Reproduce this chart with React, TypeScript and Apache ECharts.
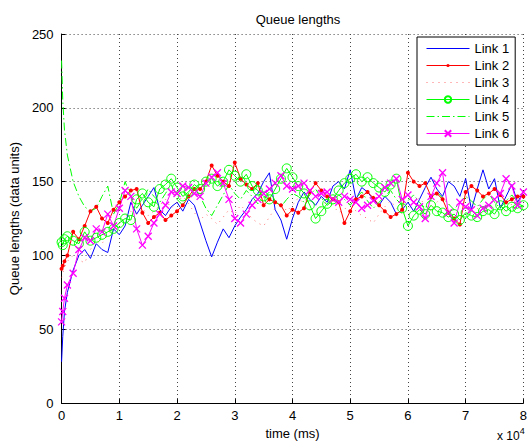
import React, { useEffect, useRef } from "react";
import * as echarts from "echarts";

// time grid in ms (x axis shown in units of 10^4 ms)
const TIME_MS: number[] = [0, 200, 500, ...Array.from({ length: 80 }, (_, i) => (i + 1) * 1000)];

const LINK1 = [
  28, 45, 62,
  75, 90, 100, 104, 98, 108, 104, 102, 118, 114,
  120, 136, 128, 134, 140, 146, 131, 127, 133, 136,
  130, 138, 134, 122, 110, 99, 109, 118, 112, 120,
  126, 131, 138, 142, 150, 156, 131, 124, 111, 125,
  136, 143, 138, 134, 140, 136, 147, 150, 145, 158,
  138, 146, 143, 138, 134, 140, 136, 128, 131, 136,
  130, 138, 146, 153, 145, 140, 150, 147, 140, 152,
  131, 145, 158, 145, 152, 132, 140, 148, 136, 143,
];
const LINK2 = [
  91, 93, 96,
  100, 116, 111, 120, 130, 133, 125, 122, 131, 136,
  140, 144, 145, 129, 122, 126, 129, 124, 127, 130,
  134, 140, 145, 145, 150, 161, 154, 150, 147, 163,
  152, 148, 145, 149, 134, 138, 136, 134, 127, 131,
  129, 132, 143, 149, 144, 140, 138, 136, 122, 130,
  138, 140, 143, 139, 134, 130, 126, 128, 131, 156,
  150, 147, 149, 140, 142, 138, 129, 125, 121, 143,
  147, 144, 140, 142, 145, 141, 136, 138, 140, 140,
];
const LINK3 = [
  85, 88, 92,
  96, 100, 97, 95, 104, 110, 108, 114, 118, 122,
  126, 130, 128, 132, 127, 130, 134, 138, 132, 136,
  140, 135, 129, 124, 128, 125, 121, 126, 131, 128,
  134, 130, 125, 122, 120, 126, 132, 136, 130, 134,
  139, 135, 130, 127, 133, 138, 134, 129, 131, 136,
  130, 127, 125, 122, 128, 133, 137, 132, 128, 131,
  135, 139, 134, 130, 136, 140, 135, 131, 128, 133,
  137, 132, 128, 134, 138, 133, 129, 135, 139, 136,
];
const LINK4 = [
  109, 107, 111,
  113, 110, 108, 116, 110, 112, 114, 116, 118, 122,
  125, 124, 138, 142, 136, 133, 145, 148, 152, 146,
  140, 143, 148, 145, 150, 152, 147, 150, 158, 154,
  150, 155, 147, 144, 140, 138, 145, 152, 159, 153,
  147, 142, 134, 125, 130, 135, 138, 144, 149, 152,
  155, 150, 153, 149, 146, 143, 148, 152, 132, 120,
  127, 131, 128, 134, 130, 129, 126, 128, 124, 129,
  127, 126, 130, 131, 128, 134, 130, 133, 132, 134,
];
const LINK5 = [
  232, 205, 185,
  168, 150, 140, 133, 130, 132, 140, 147, 128, 135,
  150, 140, 132, 138, 145, 140, 136, 142, 148, 138,
  134, 142, 146, 140, 132, 127, 134, 141, 148, 142,
  138, 144, 140, 135, 139, 143, 137, 133, 138, 142,
  140, 136, 141, 145, 139, 134, 137, 141, 138, 134,
  139, 143, 137, 132, 136, 140, 144, 138, 134, 137,
  141, 136, 132, 138, 143, 139, 135, 131, 136, 140,
  137, 133, 138, 142, 136, 132, 137, 141, 136, 133,
];
const LINK6 = [
  55, 62, 71,
  80, 88, 104, 112, 110, 118, 116, 128, 120, 132,
  144, 140, 118, 107, 113, 122, 128, 134, 143, 142,
  147, 146, 142, 140, 149, 153, 156, 149, 138, 125,
  122, 128, 134, 138, 142, 145, 149, 154, 147, 145,
  147, 149, 144, 140, 142, 143, 138, 136, 140, 138,
  136, 132, 134, 137, 140, 146, 149, 152, 138, 141,
  136, 133, 125, 140, 149, 156, 129, 122, 136, 133,
  131, 127, 132, 134, 138, 142, 152, 147, 134, 143,
];

const SERIES_NAMES = ["Link 1", "Link 2", "Link 3", "Link 4", "Link 5", "Link 6"];
const X_TICKS = [0, 1, 2, 3, 4, 5, 6, 7, 8];
const Y_TICKS = [0, 50, 100, 150, 200, 250];

const FONT = "'Liberation Sans', Arial, Helvetica, sans-serif";

export default function App() {
  const ref = useRef<HTMLDivElement>(null);

  useEffect(() => {
    document.body.style.margin = "0";
    if (!ref.current) return;
    const chart = echarts.init(ref.current, undefined, { renderer: "svg" });
    const pairs = (arr: number[]) => TIME_MS.map((t, i) => [t, arr[i]]);

    const hideSym = { itemStyle: { opacity: 0 }, lineStyle: { width: 1 } };

    const option: any = {
      animation: false,
      backgroundColor: "#ffffff",
      textStyle: { fontFamily: FONT },
      title: {
        text: "Queue lengths",
        left: 293,
        top: 8,
        textAlign: "center",
        textStyle: { fontSize: 13, fontWeight: "normal", color: "#000", fontFamily: FONT },
      },
      grid: { left: 58, right: 2, top: 34, bottom: 40, containLabel: false },
      legend: {
        orient: "vertical",
        left: 417,
        top: 37,
        padding: [4, 6, 4, 9],
        itemWidth: 43,
        itemHeight: 8,
        itemGap: 2,
        backgroundColor: "#fff",
        borderColor: "#000",
        borderWidth: 1,
        borderRadius: 0,
        align: "left",
        textStyle: { fontSize: 13, color: "#000", fontFamily: FONT, lineHeight: 15 },
        data: [
          { name: SERIES_NAMES[0], ...hideSym },
          {
            name: SERIES_NAMES[1],
            icon: "path://M0,4.6H43V5.4H0Z M19.9,5A1.6,1.6 0 1 1 23.1,5A1.6,1.6 0 1 1 19.9,5Z",
          },
          { name: SERIES_NAMES[2], ...hideSym },
          { name: SERIES_NAMES[3], lineStyle: { width: 1 } },
          { name: SERIES_NAMES[4], ...hideSym },
          { name: SERIES_NAMES[5], lineStyle: { width: 1 } },
        ],
      },
      xAxis: {
        type: "value",
        min: 0,
        max: 80000,
        interval: 10000,
        name: "time (ms)",
        nameLocation: "middle",
        nameGap: 21,
        nameTextStyle: { fontSize: 13, color: "#000", fontFamily: FONT },
        axisLine: { show: true, lineStyle: { color: "#000", width: 1 } },
        axisTick: { show: true, inside: true, length: 4, lineStyle: { color: "#000" } },
        axisLabel: {
          color: "#000",
          fontSize: 13,
          margin: 6,
          fontFamily: FONT,
          formatter: (v: number) => {
            const k = Math.round(v / 10000);
            return X_TICKS.includes(k) ? String(k) : "";
          },
        },
        splitLine: { show: true, lineStyle: { color: "#444", type: [1, 3], width: 1 } },
      },
      yAxis: {
        type: "value",
        min: 0,
        max: 250,
        interval: 50,
        name: "Queue lengths (data units)",
        nameLocation: "middle",
        nameGap: 31,
        nameTextStyle: { fontSize: 13, color: "#000", fontFamily: FONT },
        axisLine: { show: true, lineStyle: { color: "#000", width: 1 } },
        axisTick: { show: true, inside: true, length: 4, lineStyle: { color: "#000" } },
        axisLabel: {
          color: "#000",
          fontSize: 13,
          margin: 8,
          fontFamily: FONT,
          formatter: (v: number) => (Y_TICKS.includes(v) ? String(v) : ""),
        },
        splitLine: { show: true, lineStyle: { color: "#444", type: [1, 3], width: 1 } },
      },
      graphic: [
        {
          type: "text",
          left: 497,
          top: 426,
          style: {
            text: "{a|x 10}{b|4}",
            rich: {
              a: { fontSize: 12, fill: "#000", fontFamily: FONT, padding: [4, 0, 0, 0] },
              b: { fontSize: 9, fill: "#000", fontFamily: FONT, verticalAlign: "top" },
            },
          },
        },
      ],
      series: [
        {
          name: SERIES_NAMES[0],
          type: "line",
          data: pairs(LINK1),
          symbol: "none",
          color: "#0000ff",
          lineStyle: { width: 1, color: "#0000ff" },
        },
        {
          name: SERIES_NAMES[1],
          type: "line",
          data: pairs(LINK2),
          symbol: "circle",
          symbolSize: 4,
          showAllSymbol: true,
          color: "#ff0000",
          itemStyle: { color: "#ff0000" },
          lineStyle: { width: 1, color: "#ff0000" },
        },
        {
          name: SERIES_NAMES[2],
          type: "line",
          data: pairs(LINK3),
          symbol: "none",
          color: "#ff3030",
          lineStyle: { width: 1, color: "#ff3030", type: [1, 5], opacity: 0.7 },
        },
        {
          name: SERIES_NAMES[3],
          type: "line",
          data: pairs(LINK4),
          symbol: "circle",
          symbolSize: 9,
          showAllSymbol: true,
          color: "#00ff00",
          itemStyle: { color: "rgba(0,0,0,0)", borderColor: "#00ff00", borderWidth: 1 },
          lineStyle: { width: 1, color: "#00ff00" },
        },
        {
          name: SERIES_NAMES[4],
          type: "line",
          data: pairs(LINK5),
          symbol: "none",
          color: "#00ff00",
          lineStyle: { width: 1, color: "#00ff00", type: [8, 3, 1.5, 3] },
        },
        {
          name: SERIES_NAMES[5],
          type: "line",
          data: pairs(LINK6),
          symbol: "path://M0,0L10,10M10,0L0,10",
          symbolSize: 7,
          showAllSymbol: true,
          color: "#ff00ff",
          itemStyle: { color: "#ff00ff", borderColor: "#ff00ff", borderWidth: 1.3 },
          lineStyle: { width: 1, color: "#ff00ff" },
        },
      ],
    };

    chart.setOption(option);
    return () => chart.dispose();
  }, []);

  return <div ref={ref} style={{ width: 530, height: 445 }} />;
}
